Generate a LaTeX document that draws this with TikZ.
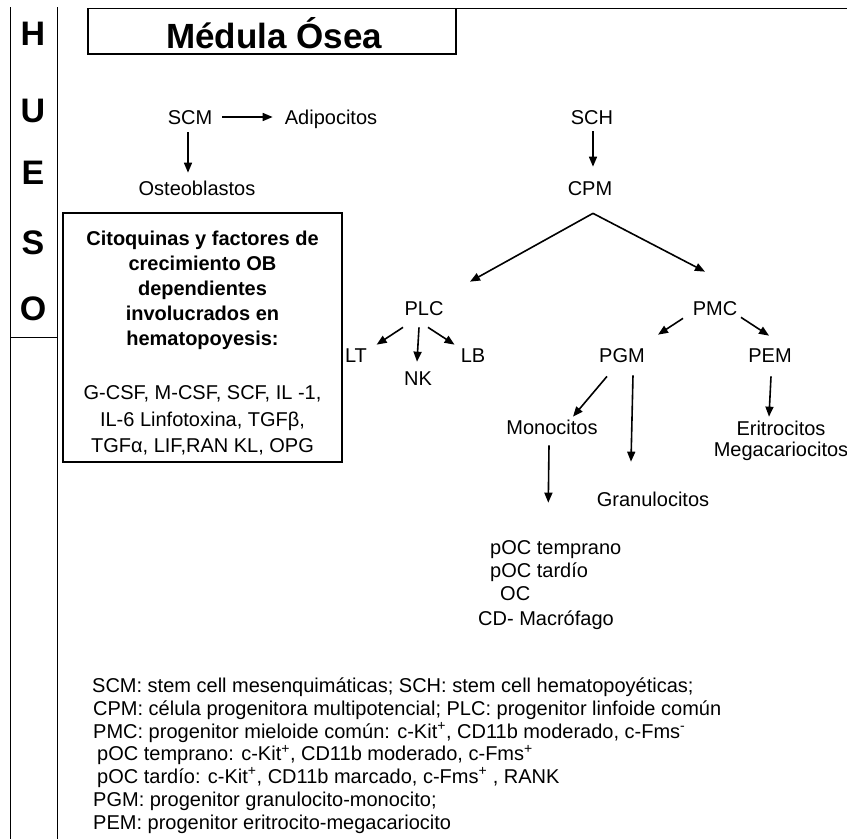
\documentclass[tikz,border=0pt]{standalone}
\usepackage{fontspec}
\setmainfont{Liberation Sans}
\usetikzlibrary{arrows.meta}

\begin{document}
\begin{tikzpicture}[
  x=1pt,y=-1pt,
  >={Triangle[length=10pt,width=8pt]},
  frame/.style={draw=black,line width=1pt},
  titlebox/.style={draw=black,line width=1.4pt},
  caja/.style={draw=black,line width=1.8pt},
  arr/.style={->,draw=black,line width=1.6pt},
  cell/.style={font=\fontsize{20}{23}\selectfont,inner sep=0pt,
    text height=14.3pt,text depth=0pt},
  letra/.style={font=\fontsize{34}{34}\selectfont\bfseries,inner sep=0pt,
    text height=24.5pt,text depth=0pt},
  nota/.style={font=\fontsize{20}{23}\selectfont,inner sep=0pt,
    anchor=west,text height=14.3pt,text depth=0pt}
]
\useasboundingbox (0,0) rectangle (847,839);

% Hueso column and frame
\draw[frame] (10,7) -- (10,839);
\draw[frame] (57,7) -- (57,839);
\draw[frame] (10,337) -- (57,337);
\draw[frame] (88,8) -- (847,8);
\draw[titlebox] (88,8) -- (88,54) -- (456,54) -- (456,8);

\foreach \l/\y in {H/33,U/110,E/172,S/242,O/308}
  \node[letra] (hueso\l) at (33,\y) {\l};

\node[font=\fontsize{35}{35}\selectfont\bfseries,inner sep=0pt] (medula) at (274,33) {Médula Ósea};

% Mesenchymal branch
\node[cell] (scm)   at (190,117) {SCM};
\node[cell] (adipo) at (331,117) {Adipocitos};
\node[cell] (osteo) at (197,188) {Osteoblastos};

\draw[arr] ([shift={(10,0)}]scm.east) -- ([shift={(-12,0)}]adipo.west);
\draw[arr] ([shift={(-2,8)}]scm.south) -- ([shift={(-9,-8)}]osteo.north);

% OB factors
\node[caja,minimum width=279pt,minimum height=249pt,inner sep=0pt] (factores) at (202.5,337.5) {};
\node[inner sep=0pt,anchor=north,align=center,font=\fontsize{20}{25}\selectfont]
  (factxt) at ([shift={(0,18.6)}]factores.north)
  {\textbf{Citoquinas y factores de}\\
   \textbf{crecimiento OB}\\
   \textbf{dependientes}\\
   \textbf{involucrados en}\\
   \textbf{hematopoyesis:}\\[29.4pt]
   G-CSF, M-CSF, SCF, IL -1,\\[1.5pt]
   IL-6 Linfotoxina, TGFβ,\\[1.5pt]
   TGFα, LIF,RAN KL, OPG};

% Hematopoietic branch
\node[cell] (sch) at (592,117) {SCH};
\node[cell] (cpm) at (590,188) {CPM};
\coordinate (split) at ([shift={(3,18)}]cpm.south);

\draw[arr] ([shift={(1,7)}]sch.south) -- ([shift={(3,-14)}]cpm.north);

\node[cell] (plc) at (424,308) {PLC};
\node[cell] (pmc) at (715,308) {PMC};

\draw[arr] (split) -- ([shift={(46,-19)}]plc.north);
\draw[arr] (split) -- ([shift={(-10,-29)}]pmc.north);

% lymphoid
\node[cell] (lt) at (356,355) {LT};
\node[cell] (nk) at (418,378) {NK};
\node[cell] (lb) at (473,355) {LB};

\draw[arr] ([shift={(-21,12)}]plc.south) -- ([shift={(9.5,-3)}]lt.north east);
\draw[arr] ([shift={(-5,12)}]plc.south) -- ([shift={(-1,-9)}]nk.north);
\draw[arr] ([shift={(4,12)}]plc.south) -- ([shift={(-6,-3)}]lb.north west);

% myeloid
\node[cell] (pgm) at (622,355) {PGM};
\node[cell] (pem) at (770,355) {PEM};

\draw[arr] ([shift={(-32,3)}]pmc.south) -- ([shift={(36,-13)}]pgm.north);
\draw[arr] ([shift={(26,2)}]pmc.south) -- ([shift={(-1,-12)}]pem.north);

\node[cell] (mono)    at (552,427) {Monocitos};
\node[cell] (granulo) at (653,499) {Granulocitos};
\node[cell] (eritro)  at (781,428) {Eritrocitos};
\node[cell] (mega)    at (781,449) {Megacariocitos};

\draw[arr] ([shift={(-15,14)}]pgm.south) -- ([shift={(21,-3)}]mono.north);
\draw[arr] ([shift={(11,13)}]pgm.south) -- ([shift={(-22,-30)}]granulo.north);
\draw[arr] ([shift={(1,14)}]pem.south) -- ([shift={(-12,-4)}]eritro.north);

% osteoclast line
\node[cell,anchor=west] (poctemp) at (490,547) {pOC temprano};
\node[cell,anchor=west] (poctard) at (490,570) {pOC tardío};
\node[cell,anchor=west] (oc)      at (500,593) {OC};
\node[cell,anchor=west] (cdmac)   at (478,618) {CD- Macrófago};

\draw[arr] ([shift={(-3,11)}]mono.south) -- ([shift={(-7.5,-37)}]poctemp.north);

% legend
\node[nota] (ley1) at (92,685)   {SCM: stem cell mesenquimáticas; SCH: stem cell hematopoyéticas;};
\node[nota] (ley2) at (93,708)   {CPM: célula progenitora multipotencial; PLC: progenitor linfoide común};
\node[nota] (ley3) at (93,731)   {PMC: progenitor mieloide común: c-Kit\textsuperscript{+}, CD11b moderado, c-Fms\textsuperscript{-}};
\node[nota] (ley4) at (97,753.5) {pOC temprano: c-Kit\textsuperscript{+}, CD11b moderado, c-Fms\textsuperscript{+}};
\node[nota] (ley5) at (97,776)   {pOC tardío: c-Kit\textsuperscript{+}, CD11b marcado, c-Fms\textsuperscript{+} , RANK};
\node[nota] (ley6) at (93,799)   {PGM: progenitor granulocito-monocito;};
\node[nota] (ley7) at (93,822)   {PEM: progenitor eritrocito-megacariocito};

\end{tikzpicture}
\end{document}
